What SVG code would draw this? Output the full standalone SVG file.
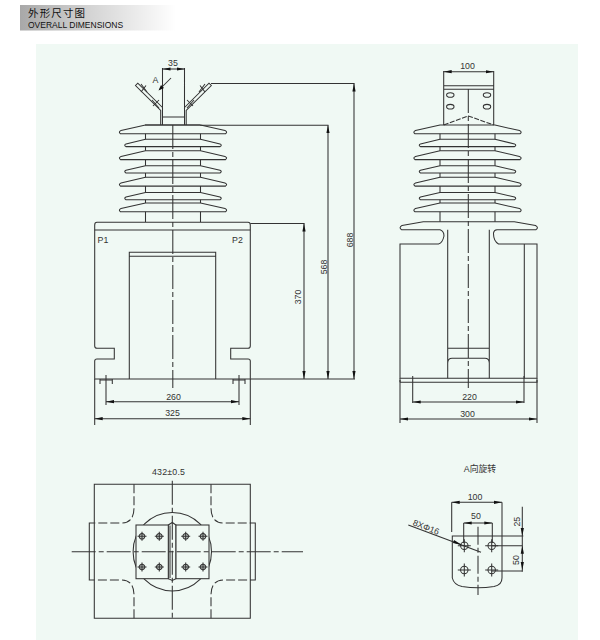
<svg xmlns="http://www.w3.org/2000/svg" xmlns:xlink="http://www.w3.org/1999/xlink" width="600" height="640" viewBox="0 0 600 640">
<style>
.l{fill:none;stroke:#333;stroke-width:1.05}
.f{fill:#f0f9f4;stroke:#333;stroke-width:1.05}
.c{fill:none;stroke:#333;stroke-width:1.05;stroke-dasharray:24 3 5 3}
.d{fill:none;stroke:#333;stroke-width:1.05;stroke-dasharray:9 3}
.a{fill:none;stroke:#333;stroke-width:1.05;marker-start:url(#ah);marker-end:url(#ah)}
text{font-family:"Liberation Sans",Arial,sans-serif;font-size:8.800px;fill:#333;text-anchor:middle}
</style>
<defs>
<linearGradient id="hg" x1="0" x2="1" y1="0" y2="0"><stop offset="0" stop-color="#a8a8a8"/><stop offset=".45" stop-color="#d4d4d4"/><stop offset="1" stop-color="#ffffff"/></linearGradient>
<marker id="ah" markerUnits="userSpaceOnUse" markerWidth="9" markerHeight="4" refX="8" refY="2" orient="auto-start-reverse"><path d="M0 .4L8 2L0 3.600Z" fill="#111"/></marker>
<path id="sl" class="f" d="M-27.500 0L-52 5.600Q-55 7 -52.500 8.800H52.500Q55 7 52 5.600L27.500 0Z"/>
<path id="ss" class="f" d="M-27.500 0L-47 4.600Q-49.500 5.800 -47 7.300H47Q49.500 5.800 47 4.600L27.500 0Z"/>
<g id="sh">
<path class="l" d="M-27.500 125V222M27.500 125V222"/>
<use xlink:href="#sl" y="125"/><use xlink:href="#ss" y="139.300"/><use xlink:href="#sl" y="150.800"/><use xlink:href="#ss" y="165.700"/><use xlink:href="#sl" y="177.300"/><use xlink:href="#ss" y="192.400"/><use xlink:href="#sl" y="203"/>
</g>
<g id="h1"><circle class="l" r="2.800" style="fill:#c4ccc8"/><path class="l" d="M-4.500 0H4.500M0 -4.500V4.500"/></g>
<g id="h2"><circle class="l" r="3.700"/><path class="l" d="M-6.500 0H6.500M0 -6.500V6.500"/></g>
</defs>
<rect width="600" height="640" fill="#fff"/>
<rect id="panel" x="36" y="44" width="542" height="596" fill="#f0f9f4"/>
<g id="header">
<rect x="20" y="5" width="156" height="25.500" fill="url(#hg)"/>
<text x="28" y="17" textLength="57" style="font-family:'Noto Sans CJK SC','Liberation Sans',sans-serif;font-size:10.500px;text-anchor:start;fill:#111">外形尺寸图</text>
<text x="28" y="28" style="text-anchor:start;fill:#111;font-size:8.500px">OVERALL DIMENSIONS</text>
</g>
<g id="front-view">
<use xlink:href="#sh" x="173"/>
<path class="l" d="M160.700 125V110.500L135.500 85.500L137.800 83.200L162.500 107.500M162.500 125V68M184.500 68V125M162.500 117H184.500M184.500 107.500L209 83.200L211.300 85.500L186.200 110.500V125"/>
<path class="l" d="M145 125H200"/>
<path class="l" d="M141 92L146 85.500M141 84L147 92M153 106L159 100M152 100L159 108M193 106L187 100M194 100L187 108M205 92L200 85.500M205 84L199 92"/>
<path class="f" d="M94.700 379V361Q94.700 359 97 359H114.300V348.300H97Q94.700 348.300 94.700 346V225Q94.700 222.300 97 222.300H248Q250.300 222.300 250.300 225V346Q250.300 348.300 248 348.300H230.700V359H248Q250.300 359 250.300 361V379Z"/>
<path class="l" d="M94.700 230H250.300M129.300 379V252.300H215.700V379M129.300 256.300H215.700"/>
<path class="l" d="M100 384V379M112.300 384V379M100 380H112.300M233 384V379M245 384V379M233 380H245"/>
<path class="c" d="M172.800 125V388"/>
</g>
<g id="side-view">
<use xlink:href="#sh" x="467.500"/>
<path class="l" d="M443.700 71V125M493.700 71V125M443.700 85.700H493.700M443.700 89.300H493.700"/>
<ellipse class="l" cx="450.300" cy="95" rx="3.700" ry="2.300"/><ellipse class="l" cx="487" cy="95" rx="3.700" ry="2.300"/><ellipse class="l" cx="450.300" cy="106.700" rx="3.700" ry="2.300"/><ellipse class="l" cx="487" cy="106.700" rx="3.700" ry="2.300"/>
<path class="l" style="stroke-dasharray:5 1.500" d="M443.700 125L468.300 116L493.700 125"/>
<path class="f" d="M423.300 221.700H514.300L535.500 225.500Q539 227.500 536 229.700H497Q494 230 493.500 233Q493.300 241 498.500 244H537V378.300H400V244H438.500Q442.500 243 444 236Q444 231 440 229.700H401.500Q398.500 227.500 402 225.500Z"/>
<path class="l" d="M447.700 229.700V378.300M489.300 229.700V378.300M447.700 348.300H489.300M447.700 363Q448 358.300 452 358.300H485Q489 358.300 489.300 363M524.300 244V378.300M400 382.300H537V378.300M400 378.300V382.300"/>
<path class="c" d="M468.300 89V388"/>
</g>
<g id="plan-view">
<path class="l" d="M94.300 484.300H250.300V618.300H94.300ZM94.300 523H89.300V580H94.300M250.300 523H255.300V580H250.300"/>
<path class="d" d="M134 484.300V508Q134 523 121 523H94.300M134 618.300V595Q134 580 121 580H94.300M211 484.300V508Q211 523 224 523H250.300M211 618.300V595Q211 580 224 580H250.300"/>
<circle class="l" cx="172.300" cy="551.700" r="39.200"/>
<path class="f" d="M168.300 525L172.300 522.500L176 525V578.700L172.300 580.500L168.300 578.700Z"/>
<rect class="f" x="136" y="525" width="32.300" height="53.700"/><rect class="f" x="176" y="525" width="33" height="53.700"/>
<path class="l" d="M170 525.500V578"/>
<use xlink:href="#h1" x="142" y="536.300"/><use xlink:href="#h1" x="159.300" y="536.300"/><use xlink:href="#h1" x="185.700" y="536.300"/><use xlink:href="#h1" x="203" y="536.300"/>
<use xlink:href="#h1" x="142" y="567"/><use xlink:href="#h1" x="159.300" y="567"/><use xlink:href="#h1" x="185.700" y="567"/><use xlink:href="#h1" x="203" y="567"/>
<path class="c" d="M71.700 551.700H303M172.300 480.700V619.500"/>
<text x="168.500" y="475" textLength="33">432±0.5</text>
</g>
<g id="detail-view">
<text x="480" y="472" style="font-family:'Liberation Sans','Noto Sans CJK SC',sans-serif">A向旋转</text>
<path class="l" d="M523.300 536H452.300V578Q454 585 462 586.500Q478 589 494 586.500Q502 585 502 578V502.300M451.700 502.300V532M463.700 523V543M492.300 523V543M491.700 545.700H522.300M491.700 571H522.300"/>
<use xlink:href="#h2" x="464.300" y="545.700"/><use xlink:href="#h2" x="491.700" y="545.700"/><use xlink:href="#h2" x="464.300" y="570"/><use xlink:href="#h2" x="491.700" y="570"/>
<path class="c" style="stroke-dasharray:18 3 5 3" d="M478 526.700V595"/>
<path class="a" d="M451.700 502.300H502"/>
<path class="a" d="M463.700 523H492.300"/>
<path class="l" d="M522.300 506.700V571.700"/>
<path d="M520.700 528L522.300 536L523.900 528ZM520.700 553.700L522.300 545.700L523.900 553.700ZM520.700 562L522.300 570L523.900 562Z" fill="#111"/>
<path class="l" d="M408.300 525L481 552.300"/>
<path d="M454 540L462 545L453 543Z" fill="#111"/>
<text x="475" y="500">100</text>
<text x="476" y="519">50</text>
<text transform="translate(425 530) rotate(21)">8XΦ16</text>
<text transform="translate(520 521.700) rotate(-90)">25</text>
<text transform="translate(519 560) rotate(-90)">50</text>
</g>
<g id="connectors">
<path class="a" d="M162.500 69H184.500"/>
<path class="l" d="M171 78L160 89"/>
<path d="M158.500 90.500L161 85L164 88Z" fill="#111"/>
<path class="l" d="M211 83.500H354.500M200 125.200H328.500M250.300 223.500H304.500M250.300 379H355"/>
<path class="a" d="M304 223.500V379"/>
<path class="a" d="M328 125.200V379"/>
<path class="a" d="M354 83.500V379"/>
<path class="l" d="M94.700 379V425M250.300 379V425M106 375V405M239 375V405"/>
<path class="a" d="M106 401.700H239"/>
<path class="a" d="M94.700 418.700H250.300"/>
<path class="l" d="M412.700 376V403M524 376V403M400 380V423M537 380V423"/>
<path class="a" d="M412.700 402H524"/>
<path class="a" d="M400 419H537"/>
<path class="a" d="M443.700 71.700H493.700"/>
</g>
<g id="labels">
<text x="173" y="66">35</text>
<text x="155.500" y="83">A</text>
<text x="103" y="242.500">P1</text>
<text x="237.500" y="242.500">P2</text>
<text x="173.500" y="399.500">260</text>
<text x="172.500" y="415.500">325</text>
<text transform="translate(301 297) rotate(-90)">370</text>
<text transform="translate(327 267) rotate(-90)">568</text>
<text transform="translate(353 240) rotate(-90)">688</text>
<text x="467.500" y="69">100</text>
<text x="469.500" y="399.500">220</text>
<text x="467.500" y="416.500">300</text>
</g>
</svg>
